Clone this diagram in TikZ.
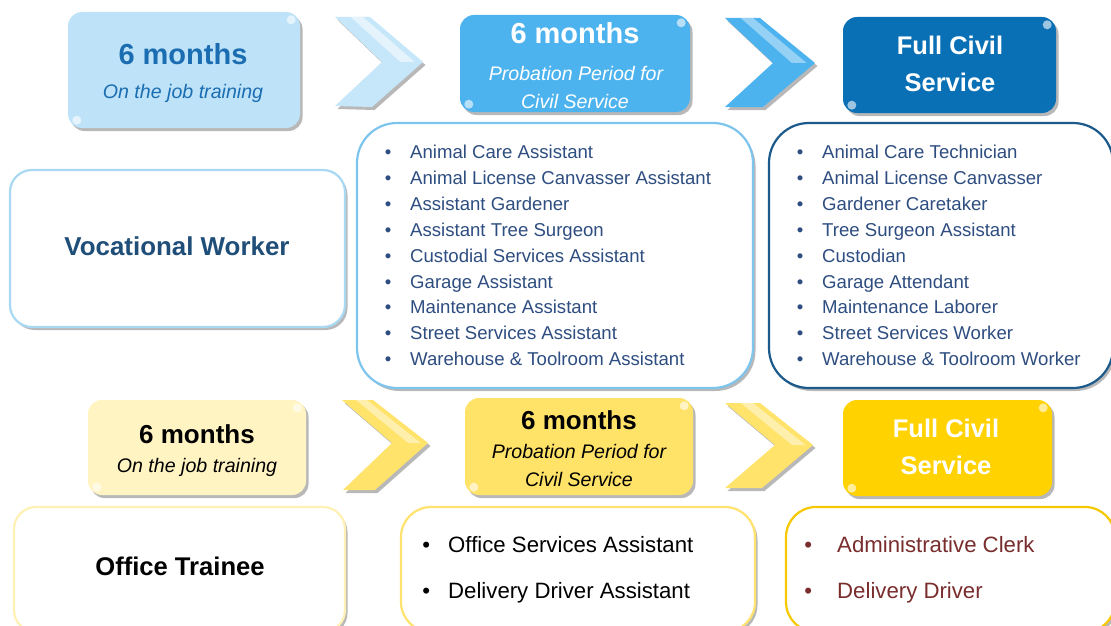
\documentclass[tikz,border=0pt]{standalone}
\usepackage{fontspec}
\setmainfont{Liberation Sans}
\usetikzlibrary{shadows,calc}
\definecolor{lb1}{HTML}{BEE3F8}
\definecolor{lbchev}{HTML}{C6E7F9}
\definecolor{mb}{HTML}{4DB3EF}
\definecolor{db}{HTML}{0A70B6}
\definecolor{headblue}{HTML}{1B6DB2}
\definecolor{vwblue}{HTML}{1F4E79}
\definecolor{listblue}{HTML}{2E4D80}
\definecolor{l1border}{HTML}{7EC5EE}
\definecolor{l2border}{HTML}{1C5A8C}
\definecolor{vwborder}{HTML}{A9D8F3}
\definecolor{ly}{HTML}{FFF4C2}
\definecolor{my}{HTML}{FFE369}
\definecolor{ychev}{HTML}{FFE36A}
\definecolor{dy}{HTML}{FFD200}
\definecolor{otborder}{HTML}{FFF0B3}
\definecolor{l3border}{HTML}{FFE36E}
\definecolor{l4border}{HTML}{F5C800}
\definecolor{darkred}{HTML}{7A2D2D}
\begin{document}
\begin{tikzpicture}[x=1pt,y=-1pt,
  shad/.style={drop shadow={shadow xshift=2.5pt,shadow yshift=-3pt,opacity=0.28,fill=black}},
  stage/.style={shad,rounded corners=14pt,inner sep=0pt,draw=none},
  panel/.style={shad,rounded corners=#1,inner sep=0pt,fill=white,line width=2.2pt},
  lbl/.style={inner sep=0pt,anchor=base},
  item/.style={inner sep=0pt,anchor=base west},
  chev/.style={shad},
  gloss/.style={fill=white,opacity=0.6}]
\useasboundingbox (0,0) rectangle (1111,626);
\fill[white] (0,0) rectangle (1111,626);

% ---------- top row ----------
\node[stage,fill=lb1,minimum width=232pt,minimum height=116pt] (b1) at (184,70) {};
\node[stage,fill=mb,minimum width=230pt,minimum height=97pt] (b2) at (575,63.5) {};
\node[stage,fill=db,minimum width=213pt,minimum height=96pt] (b3) at (949.5,65) {};

\foreach \b in {b1,b2,b3}{
  \fill[gloss] ($(\b.north east)+(-9,8)$) circle (4.5);
  \fill[gloss] ($(\b.south west)+(9,-8)$) circle (4.5);
}

\node[lbl,font=\bfseries\fontsize{29pt}{31pt}\selectfont,text=headblue] (b1t) at (183,65) {6 months};
\node[lbl,font=\itshape\fontsize{19.6pt}{22pt}\selectfont,text=headblue] (b1s) at (183,98) {On the job training};

\node[lbl,font=\bfseries\fontsize{29pt}{31pt}\selectfont,text=white] (b2t) at (575,44) {6 months};
\node[lbl,font=\itshape\fontsize{19.6pt}{22pt}\selectfont,text=white] (b2s) at (576,81) {Probation Period for};
\node[lbl,font=\itshape\fontsize{19.6pt}{22pt}\selectfont,text=white] (b2u) at (575,108) {Civil Service};

\node[lbl,font=\bfseries\fontsize{25.5pt}{28pt}\selectfont,text=white] (b3t) at (950,55) {Full Civil};
\node[lbl,font=\bfseries\fontsize{25.5pt}{28pt}\selectfont,text=white] (b3u) at (950,92) {Service};

% chevrons top
\coordinate (c1a) at (335,17); \coordinate (c1b) at (370,17); \coordinate (c1t) at (423,62);
\coordinate (c1c) at (372,107); \coordinate (c1d) at (335,106); \coordinate (c1n) at (382,62);
\fill[chev,lbchev] (c1a) -- (c1b) -- (c1t) -- (c1c) -- (c1d) -- (c1n) -- cycle;
\fill[white,opacity=0.55] ($(c1a)!0.45!(c1b)$) -- ($(c1a)!0.8!(c1b)$) -- ($(c1n)!0.8!(c1t)$) -- ($(c1n)!0.45!(c1t)$) -- cycle;

\coordinate (c2a) at (725,18); \coordinate (c2b) at (760,18); \coordinate (c2t) at (815,63);
\coordinate (c2c) at (763,107); \coordinate (c2d) at (725,107); \coordinate (c2n) at (773,63);
\fill[chev,mb] (c2a) -- (c2b) -- (c2t) -- (c2c) -- (c2d) -- (c2n) -- cycle;
\fill[white,opacity=0.4] ($(c2a)!0.45!(c2b)$) -- ($(c2a)!0.8!(c2b)$) -- ($(c2n)!0.8!(c2t)$) -- ($(c2n)!0.45!(c2t)$) -- cycle;

% ---------- vocational lists ----------
\node[panel=22pt,draw=vwborder,minimum width=335pt,minimum height=157pt] (vw) at (177.5,248.5) {};
\node[lbl,font=\bfseries\fontsize{25.9pt}{28pt}\selectfont,text=vwblue] (vwt) at (177,255) {Vocational Worker};

\node[panel=40pt,draw=l1border,minimum width=396pt,minimum height=265pt] (l1) at (555,255.5) {};
\node[panel=40pt,draw=l2border,minimum width=344pt,minimum height=265pt] (l2) at (941,255.5) {};

\foreach \t [count=\i from 0] in {Animal Care Assistant,Animal License Canvasser Assistant,Assistant Gardener,Assistant Tree Surgeon,Custodial Services Assistant,Garage Assistant,Maintenance Assistant,Street Services Assistant,Warehouse \& Toolroom Assistant}
  \node[item,font=\fontsize{18.6pt}{22pt}\selectfont,text=listblue] (la\i) at (410,{158.5+25.9*\i}) {\llap{•\hspace{18.7pt}}\t};

\foreach \t [count=\i from 0] in {Animal Care Technician,Animal License Canvasser,Gardener Caretaker,Tree Surgeon Assistant,Custodian,Garage Attendant,Maintenance Laborer,Street Services Worker,Warehouse \& Toolroom Worker}
  \node[item,font=\fontsize{18.6pt}{22pt}\selectfont,text=listblue] (lb\i) at (822,{158.5+25.9*\i}) {\llap{•\hspace{18.7pt}}\t};

% ---------- bottom row ----------
\node[stage,fill=ly,minimum width=218pt,minimum height=95pt] (b4) at (197,447.5) {};
\node[stage,fill=my,minimum width=228pt,minimum height=97pt] (b5) at (579,446.5) {};
\node[stage,fill=dy,minimum width=209pt,minimum height=96pt] (b6) at (947.5,448) {};

\foreach \b in {b4,b5,b6}{
  \fill[gloss] ($(\b.north east)+(-9,8)$) circle (4.5);
  \fill[gloss] ($(\b.south west)+(9,-8)$) circle (4.5);
}

\node[lbl,font=\bfseries\fontsize{26pt}{28pt}\selectfont,text=black] (b4t) at (197,443) {6 months};
\node[lbl,font=\itshape\fontsize{19.6pt}{22pt}\selectfont,text=black] (b4s) at (197,472) {On the job training};

\node[lbl,font=\bfseries\fontsize{26pt}{28pt}\selectfont,text=black] (b5t) at (579,429) {6 months};
\node[lbl,font=\itshape\fontsize{19.6pt}{22pt}\selectfont,text=black] (b5s) at (579,458) {Probation Period for};
\node[lbl,font=\itshape\fontsize{19.6pt}{22pt}\selectfont,text=black] (b5u) at (579,486) {Civil Service};

\node[lbl,font=\bfseries\fontsize{25.5pt}{28pt}\selectfont,text=white] (b6t) at (946,437) {Full Civil};
\node[lbl,font=\bfseries\fontsize{25.5pt}{28pt}\selectfont,text=white] (b6u) at (946,474) {Service};

% chevrons bottom
\coordinate (c3a) at (342,400); \coordinate (c3b) at (373,400); \coordinate (c3t) at (428,443);
\coordinate (c3c) at (375,490); \coordinate (c3d) at (343,490); \coordinate (c3n) at (392,443);
\fill[chev,ychev] (c3a) -- (c3b) -- (c3t) -- (c3c) -- (c3d) -- (c3n) -- cycle;
\fill[white,opacity=0.45] ($(c3a)!0.45!(c3b)$) -- ($(c3a)!0.8!(c3b)$) -- ($(c3n)!0.8!(c3t)$) -- ($(c3n)!0.45!(c3t)$) -- cycle;

\coordinate (c4a) at (725,403); \coordinate (c4b) at (760,403); \coordinate (c4t) at (813,445);
\coordinate (c4c) at (762,488); \coordinate (c4d) at (725,488); \coordinate (c4n) at (775,445);
\fill[chev,ychev] (c4a) -- (c4b) -- (c4t) -- (c4c) -- (c4d) -- (c4n) -- cycle;
\fill[white,opacity=0.45] ($(c4a)!0.45!(c4b)$) -- ($(c4a)!0.8!(c4b)$) -- ($(c4n)!0.8!(c4t)$) -- ($(c4n)!0.45!(c4t)$) -- cycle;

% ---------- office lists ----------
\node[panel=22pt,draw=otborder,minimum width=331pt,minimum height=125pt] (ot) at (179.5,569.5) {};
\node[lbl,font=\bfseries\fontsize{25.6pt}{28pt}\selectfont,text=black] (ott) at (180,575) {Office Trainee};

\node[panel=30pt,draw=l3border,minimum width=354pt,minimum height=125pt] (l3) at (578,569.5) {};
\node[panel=30pt,draw=l4border,minimum width=329pt,minimum height=125pt] (l4) at (950.5,569.5) {};

\node[item,font=\fontsize{22.2pt}{26pt}\selectfont,text=black] (lc0) at (448,552) {\llap{•\hspace{18pt}}Office Services Assistant};
\node[item,font=\fontsize{22.2pt}{26pt}\selectfont,text=black] (lc1) at (448,598) {\llap{•\hspace{18pt}}Delivery Driver Assistant};

\node[item,font=\fontsize{22.2pt}{26pt}\selectfont,text=darkred] (ld0) at (837,552) {\llap{•\hspace{25pt}}Administrative Clerk};
\node[item,font=\fontsize{22.2pt}{26pt}\selectfont,text=darkred] (ld1) at (837,598) {\llap{•\hspace{25pt}}Delivery Driver};
\end{tikzpicture}
\end{document}
